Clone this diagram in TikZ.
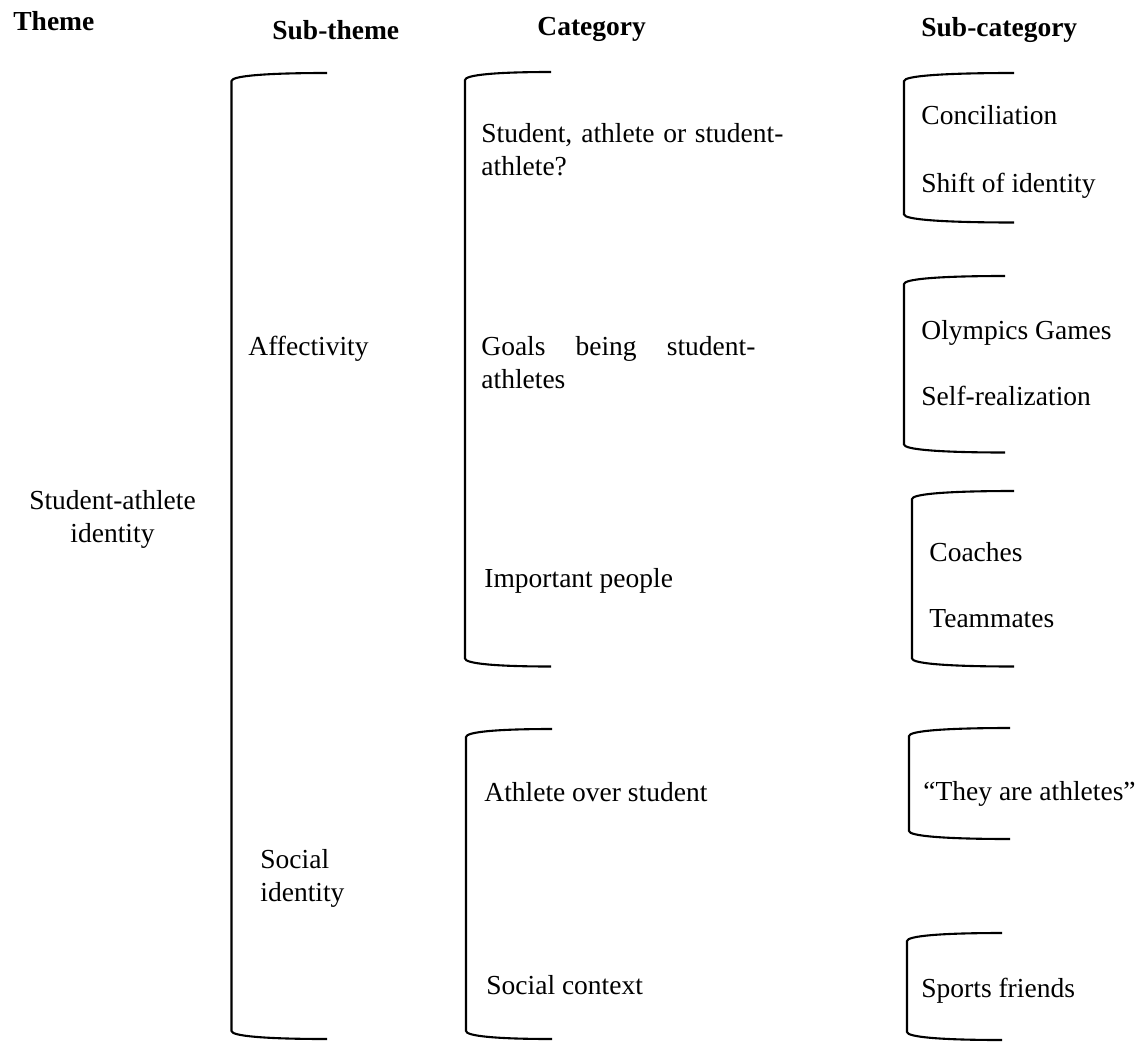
\documentclass[tikz,border=0pt]{standalone}
\usepackage{fontspec}
\setmainfont{Liberation Serif}
\newcommand{\brk}[4]{% x, top, bottom, right end
  \draw[brkline] (#4,#2) .. controls ({#1+0.35*(#4-#1)},#2) and (#1,{#2+3}) .. (#1,{#2+8})
    -- (#1,{#3-8}) .. controls (#1,{#3-3}) and ({#1+0.35*(#4-#1)},#3) .. (#4,#3);}
\begin{document}
\begin{tikzpicture}[x=0.5pt,y=-0.5pt,
  every node/.style={inner sep=0pt,font=\fontsize{13.75pt}{16.5pt}\selectfont},
  lbl/.style={anchor=base west},
  ml/.style={anchor=west,align=left},
  hdr/.style={anchor=base west,font=\fontsize{13.75pt}{16.5pt}\selectfont\bfseries},
  brkline/.style={line width=1.05pt,black}]
\useasboundingbox (0,0) rectangle (1144,1043);
% headers
\node[hdr] (hTheme) at (13,31) {Theme};
\node[hdr] (hSub) at (272,40) {Sub-theme};
\node[hdr] (hCat) at (537,36) {Category};
\node[hdr] (hSubcat) at (921,37) {Sub-category};
% brackets
\brk{231.5}{73}{1039}{327}
\brk{465}{72}{666.5}{551}
\brk{466}{729}{1039}{552}
\brk{904}{73}{222.5}{1014}
\brk{904}{276}{452.5}{1005}
\brk{912}{491}{666.5}{1014}
\brk{909}{728}{839}{1010}
\brk{907}{933}{1040}{1002}
% theme
\node[anchor=center,align=center] (theme) at (112.5,519) {Student-athlete\\identity};
% sub-themes
\node[lbl] (aff) at (248,355.5) {Affectivity};
\node[ml] (soc) at (260,878) {Social\\identity};
% categories
\node[ml] (c1) at (481,150) {\makebox[151pt][s]{Student, athlete or student-}\\athlete?};
\node[ml] (c2) at (481,362.5) {\makebox[137pt][s]{Goals being student-}\\athletes};
\node[lbl] (c3) at (484,587) {Important people};
\node[lbl] (c4) at (484,801) {Athlete over student};
\node[lbl] (c5) at (486,994) {Social context};
% sub-categories
\node[lbl] (s1) at (921,125) {Conciliation};
\node[lbl] (s2) at (921,192) {Shift of identity};
\node[lbl] (s3) at (921,339) {Olympics Games};
\node[lbl] (s4) at (921,405) {Self-realization};
\node[lbl] (s5) at (929,561) {Coaches};
\node[lbl] (s6) at (929,627) {Teammates};
\node[lbl] (s7) at (923,800) {“They are athletes”};
\node[lbl] (s8) at (921,997) {Sports friends};
\end{tikzpicture}
\end{document}
